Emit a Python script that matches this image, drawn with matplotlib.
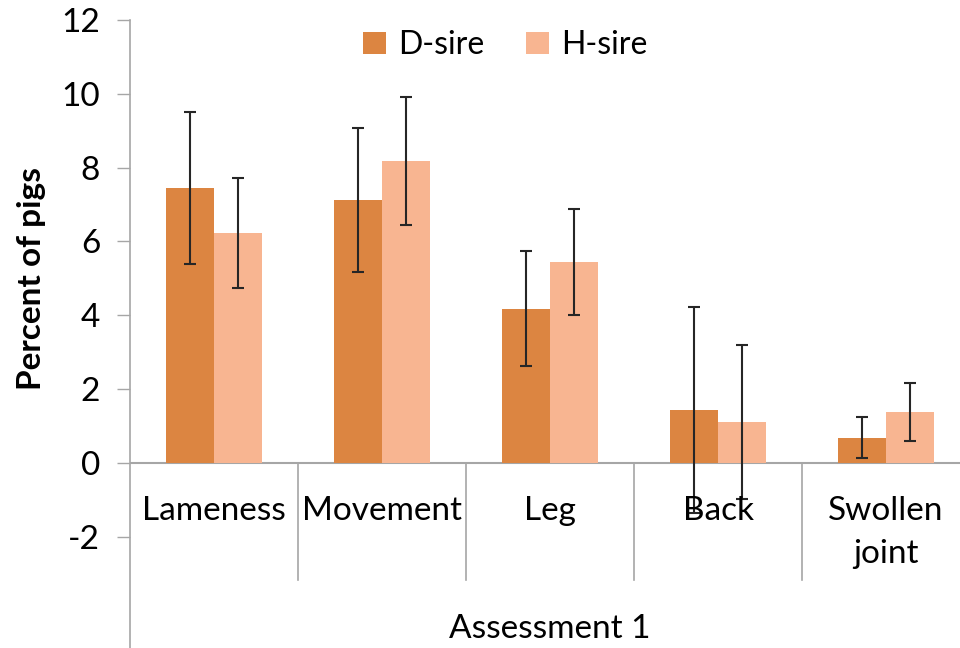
import numpy as np
import matplotlib.pyplot as plt

# Data
categories = ['Lameness', 'Movement', 'Leg', 'Back', 'Swollen\njoint']
d_sire = [7.45, 7.13, 4.17, 1.44, 0.68]
h_sire = [6.23, 8.18, 5.45, 1.11, 1.38]
d_err = [2.05, 1.95, 1.56, 2.79, 0.55]
h_err = [1.48, 1.73, 1.44, 2.09, 0.79]
y_ticks = [-2, 0, 2, 4, 6, 8, 10, 12]

plt.rcParams['font.family'] = ['Lato', 'DejaVu Sans']

fig = plt.figure(figsize=(9.6, 6.48), dpi=100)
ax = fig.add_axes([130 / 960, 0, 840 / 960, 628 / 648])

x = np.arange(len(categories)) + 0.5
w = 0.283
ebar = dict(ecolor='#262626', elinewidth=1.5, capsize=4.5, capthick=1.5)
ax.bar(x - w / 2, d_sire, w, color='#DC8541', yerr=d_err, error_kw=ebar, label='D-sire', zorder=2)
ax.bar(x + w / 2, h_sire, w, color='#F8B591', yerr=h_err, error_kw=ebar, label='H-sire', zorder=2)

ax.set_xlim(0, len(categories))
ax.set_ylim(-5.02, 12)
ax.set_yticks(y_ticks)
ax.set_yticklabels([str(t) for t in y_ticks], fontsize=24)
ax.set_xticks([])
ax.tick_params(axis='y', direction='out', length=9.5, width=1, color='#A6A6A6', pad=12)

for s in ['top', 'right', 'bottom']:
    ax.spines[s].set_visible(False)
ax.spines['left'].set_color('#A6A6A6')
ax.spines['left'].set_linewidth(1.2)

# zero line and group separators
ax.axhline(0, color='#A6A6A6', lw=1.5, zorder=1)
for b in range(1, len(categories) + 1):
    ax.plot([b, b], [0, -3.17], color='#A6A6A6', lw=1.2, clip_on=False)

for xi, lab in zip(x, categories):
    ax.text(xi, -0.9, lab, ha='center', va='top', fontsize=24, linespacing=1.55)

ax.text(2.5, -4.74, 'Assessment 1', ha='center', va='baseline', fontsize=24)

ax.set_ylabel('Percent of pigs', fontsize=24, fontweight='bold')
ax.yaxis.set_label_coords(-0.100, 0.589)

ax.legend(loc='upper center', bbox_to_anchor=(0.5 - 0.053, 1.03), ncol=2, frameon=False,
          fontsize=23, handlelength=0.7, handleheight=0.7, handletextpad=0.4,
          columnspacing=1.3)

fig.savefig('out.png', dpi=100)
